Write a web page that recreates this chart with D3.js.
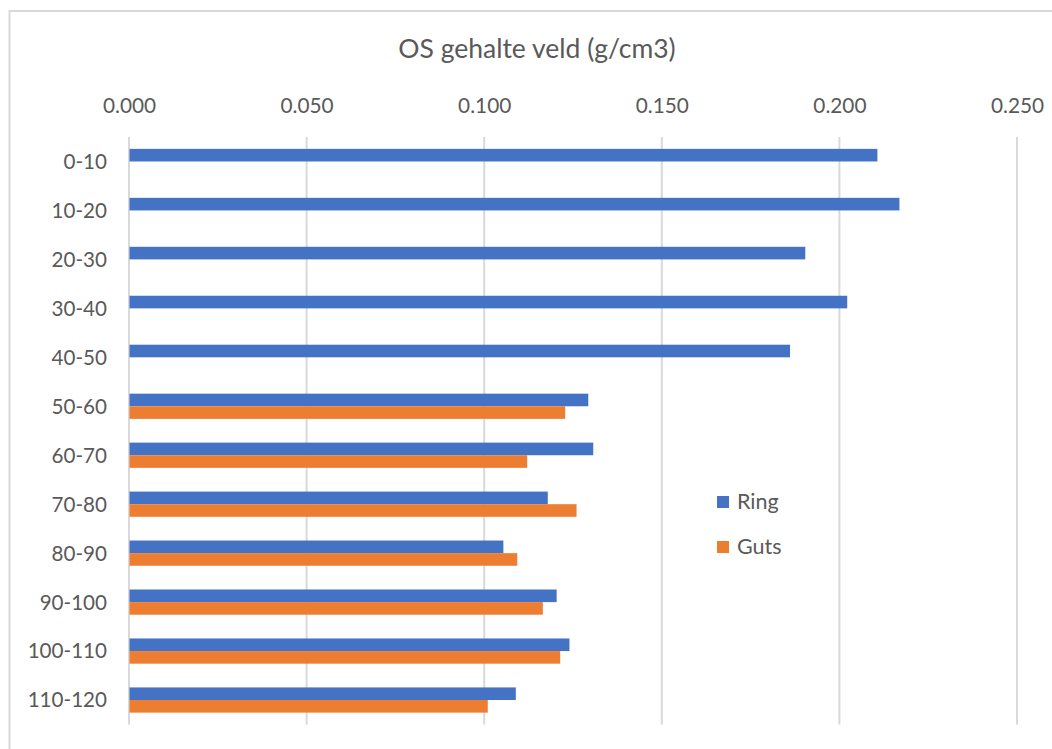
<!DOCTYPE html>
<html>
<head>
<meta charset="utf-8">
<script src="https://cdn.jsdelivr.net/npm/d3@7"></script>
<style>
  html, body { margin: 0; padding: 0; background: #ffffff; }
  svg { display: block; }
  text { font-family: Lato, "Open Sans", sans-serif; fill: #595959; }
</style>
</head>
<body>
<svg id="chart" width="1052" height="749"></svg>
<script>
// Depth intervals (cm)
const categories = ["0-10", "10-20", "20-30", "30-40", "40-50", "50-60",
                    "60-70", "70-80", "80-90", "90-100", "100-110", "110-120"];
// Organic matter content per series (g/cm3); Guts has no values above 50 cm
const ringValues = [0.2107, 0.2169, 0.1904, 0.2022, 0.1861, 0.1293,
                    0.1307, 0.1179, 0.1054, 0.1204, 0.1240, 0.1089];
const gutsValues = [null, null, null, null, null, 0.1228,
                    0.1121, 0.1260, 0.1093, 0.1165, 0.1214, 0.1010];
const seriesNames = ["Ring", "Guts"];
const seriesColors = ["#4472C4", "#ED7D31"];
const xTicks = [0, 0.05, 0.10, 0.15, 0.20, 0.25];
const chartTitle = "OS gehalte veld (g/cm3)";

const svg = d3.select("#chart");

// Chart area frame
svg.append("rect")
  .attr("x", 9.5).attr("y", 11)
  .attr("width", 1100).attr("height", 800)
  .attr("fill", "none")
  .attr("stroke", "#d9d9d9")
  .attr("stroke-width", 2);

const x = d3.scaleLinear().domain([0, 0.25]).range([129, 1017]);

const y = d3.scaleBand()
  .domain(categories)
  .range([137, 724.5])
  .paddingInner(0.485)
  .paddingOuter(0.2425);

const ySub = d3.scaleBand()
  .domain(seriesNames)
  .range([0, y.bandwidth()]);

// Title
svg.append("text")
  .attr("x", 537).attr("y", 58)
  .attr("text-anchor", "middle")
  .attr("font-size", 26.5)
  .text(chartTitle);

// Vertical gridlines
svg.append("g")
  .selectAll("line")
  .data(xTicks)
  .join("line")
  .attr("x1", d => x(d)).attr("x2", d => x(d))
  .attr("y1", 137).attr("y2", 724.5)
  .attr("stroke", "#d9d9d9")
  .attr("stroke-width", 2);

// Value axis on top
const xAxis = d3.axisTop(x)
  .tickValues(xTicks)
  .tickFormat(d3.format(".3f"))
  .tickSize(0)
  .tickPadding(0);

const gx = svg.append("g")
  .attr("transform", "translate(0,113)")
  .call(xAxis);
gx.select(".domain").remove();
gx.selectAll("text")
  .attr("font-size", 20.8)
  .attr("font-family", "Lato, 'Open Sans', sans-serif")
  .attr("fill", "#595959")
  .attr("dy", 0);

// Category axis on the left
const yAxis = d3.axisLeft(y).tickSize(0).tickPadding(0);
const gy = svg.append("g")
  .attr("transform", "translate(107,0)")
  .call(yAxis);
gy.select(".domain").remove();
gy.selectAll("text")
  .attr("font-size", 20.6)
  .attr("font-family", "Lato, 'Open Sans', sans-serif")
  .attr("fill", "#595959")
  .attr("dy", "0.36em");

// Bars
const rows = categories.map((c, i) => ({
  cat: c,
  values: [
    { key: "Ring", value: ringValues[i] },
    { key: "Guts", value: gutsValues[i] }
  ]
}));

svg.append("g")
  .selectAll("g")
  .data(rows)
  .join("g")
  .attr("transform", d => `translate(0,${y(d.cat)})`)
  .selectAll("rect")
  .data(d => d.values.filter(v => v.value != null))
  .join("rect")
  .attr("x", x(0) + 0.5)
  .attr("y", d => ySub(d.key))
  .attr("width", d => x(d.value) - x(0) - 0.5)
  .attr("height", ySub.bandwidth())
  .attr("fill", (d, i, n) => seriesColors[seriesNames.indexOf(d.key)]);

// Legend
const legend = svg.append("g")
  .attr("transform", "translate(717,0)");
const legendY = [509, 554];
seriesNames.forEach((name, i) => {
  legend.append("rect")
    .attr("x", 0).attr("y", legendY[i] - 13)
    .attr("width", 12).attr("height", 12)
    .attr("fill", seriesColors[i]);
  legend.append("text")
    .attr("x", 20).attr("y", legendY[i])
    .attr("font-size", 21.5)
    .text(name);
});
</script>
</body>
</html>
